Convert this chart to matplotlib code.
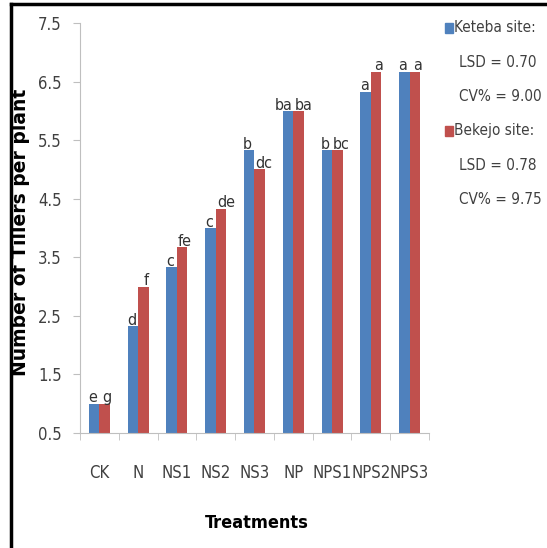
import numpy as np
import matplotlib.pyplot as plt
from matplotlib.lines import Line2D
from matplotlib.patches import Rectangle

plt.rcParams['font.family'] = ['DejaVu Sans']
plt.rcParams['font.stretch'] = 'condensed'

treatments = ['CK', 'N', 'NS1', 'NS2', 'NS3', 'NP', 'NPS1', 'NPS2', 'NPS3']
keteba = [1.0, 2.33, 3.33, 4.0, 5.33, 6.0, 5.33, 6.33, 6.67]
bekejo = [1.0, 3.0, 3.67, 4.33, 5.0, 6.0, 5.33, 6.67, 6.67]
keteba_letters = ['e', 'd', 'c', 'c', 'b', 'ba', 'b', 'a', 'a']
bekejo_letters = ['g', 'f', 'fe', 'de', 'dc', 'ba', 'bc', 'a', 'a']
legend_lines = [('Keteba site:', 'b'), ('LSD = 0.70', None), ('CV% = 9.00', None),
                ('Bekejo site:', 'r'), ('LSD = 0.78', None), ('CV% = 9.75', None)]

blue = '#4F81BD'
red = '#C0504D'
grey = '#404040'
spine = '#BFBFBF'

fig = plt.figure(figsize=(5.47, 5.48), dpi=100)
ax = fig.add_axes([80/547, 1-433/548, 349/547, 410/548])

x = np.arange(len(treatments))
w = 0.27
ax.bar(x - w/2, np.array(keteba) - 0.5, w, bottom=0.5, color=blue)
ax.bar(x + w/2, np.array(bekejo) - 0.5, w, bottom=0.5, color=red)

# significance letters, long ones pushed apart so they don't run together
for i in range(len(treatments)):
    if len(keteba_letters[i]) > 1:
        ax.text(x[i] - 0.02, keteba[i] - 0.03, keteba_letters[i], ha='right', va='bottom',
                fontsize=11.5, color='#333333')
    else:
        ax.text(x[i] - w/2 - 0.04, keteba[i] - 0.03, keteba_letters[i], ha='center',
                va='bottom', fontsize=11.5, color='#333333')
    if len(bekejo_letters[i]) > 1:
        ax.text(x[i] + 0.03, bekejo[i] - 0.03, bekejo_letters[i], ha='left', va='bottom',
                fontsize=11.5, color='#333333')
    else:
        ax.text(x[i] + w/2 + 0.06, bekejo[i] - 0.03, bekejo_letters[i], ha='center',
                va='bottom', fontsize=11.5, color='#333333')

ax.set_xlim(-0.5, len(treatments) - 0.5)
ax.set_ylim(0.5, 7.5)
ax.set_yticks(np.arange(0.5, 7.6, 1.0))
ax.set_yticklabels(['%.1f' % v for v in np.arange(0.5, 7.6, 1.0)])
ax.set_xticks(x)
ax.set_xticklabels(treatments)
ax.set_xticks(np.arange(-0.5, len(treatments)), minor=True)
ax.tick_params(axis='x', which='major', length=0, pad=22, labelsize=12, labelcolor=grey)
ax.tick_params(axis='x', which='minor', length=5, color=spine, direction='out')
ax.tick_params(axis='y', length=5, color=spine, labelsize=12, labelcolor=grey, pad=8)
for s in ['top', 'right']:
    ax.spines[s].set_visible(False)
ax.spines['left'].set_color(spine)
ax.spines['bottom'].set_color(spine)

fig.text(21/547, 1-232/548, 'Number of Tillers per plant', rotation=90, ha='center',
         va='center', fontsize=13.5, fontweight='bold', fontstretch='normal')
fig.text(257/547, 1-523/548, 'Treatments', ha='center', va='center', fontsize=13,
         fontweight='bold', color='black')

# legend on the right
for k, (txt, c) in enumerate(legend_lines):
    yy = 1 - (28 + 34.3 * k) / 548
    if c is not None:
        fig.patches.append(Rectangle((445/547, yy - 5/548), 8/547, 10/548,
                                     color=blue if c == 'b' else red,
                                     transform=fig.transFigure))
        tx = 454
    else:
        tx = 459
    fig.text(tx/547, yy, txt, ha='left', va='center', fontsize=11, color=grey)

# frame lines
fig.add_artist(Line2D([11/547, 11/547], [0, 1-4/548], color='black', lw=2.5,
                      transform=fig.transFigure))
fig.add_artist(Line2D([11/547, 1], [1-4/548, 1-4/548], color='black', lw=2.5,
                      transform=fig.transFigure))

fig.savefig('out.png', dpi=100)
